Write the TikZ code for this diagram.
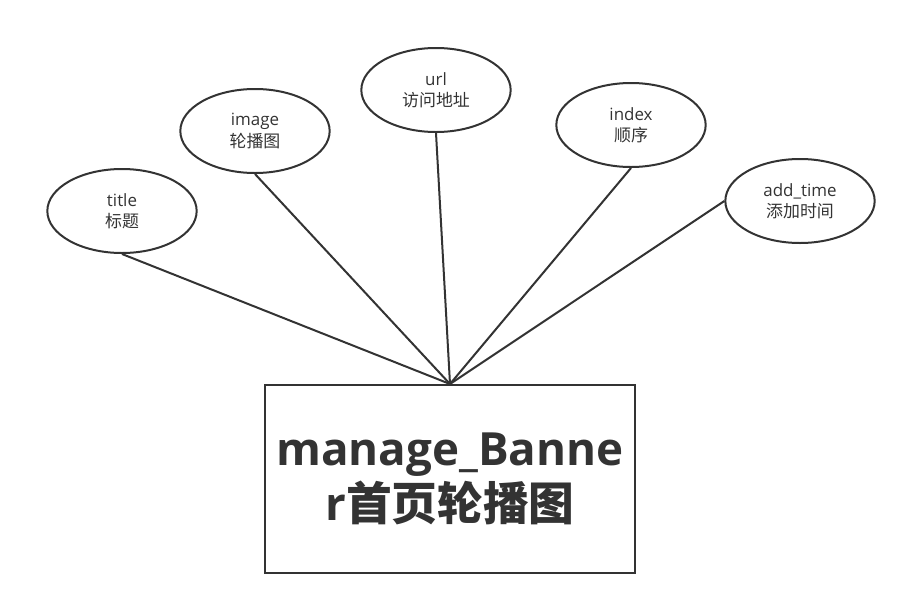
\documentclass[tikz,border=0pt]{standalone}
\usepackage{fontspec}
\setmainfont{Open Sans}
\newfontfamily\cjk{Noto Sans CJK SC}
\usetikzlibrary{shapes.geometric}
\definecolor{ink}{HTML}{333333}
\tikzset{
  attr/.style={ellipse,draw=ink,line width=1.5pt,inner sep=0pt,
    minimum width=112pt,minimum height=63pt,align=center,text=ink,
    font=\fontsize{12.7}{16}\selectfont},
  entity/.style={rectangle,draw=ink,line width=1.5pt,inner sep=0pt,
    minimum width=277pt,minimum height=141pt,align=center,text=ink,
    font=\fontsize{34.3}{41}\selectfont\bfseries},
  link/.style={draw=ink,line width=1.5pt}
}

\begin{document}
\begin{tikzpicture}[x=0.75pt,y=-0.75pt]
  \useasboundingbox (0,0) rectangle (906,604);
  \node[attr] (title) at (122,211) {title\\{\cjk 标题}};
  \node[attr] (image) at (255,131) {image\\{\cjk 轮播图}};
  \node[attr] (url) at (436,90) {url\\{\cjk 访问地址}};
  \node[attr] (index) at (631,125) {index\\{\cjk 顺序}};
  \node[attr] (addtime) at (800,201) {add\_time\\{\cjk 添加时间}};
  \node[entity] (banner) at (450,479) {manage\_Banne\\r{\cjk 首页轮播图}};
  \draw[link] (title.south) -- (banner.north);
  \draw[link] (image.south) -- (banner.north);
  \draw[link] (url.south) -- (banner.north);
  \draw[link] (index.south) -- (banner.north);
  \draw[link] (addtime.west) -- (banner.north);
\end{tikzpicture}
\end{document}
